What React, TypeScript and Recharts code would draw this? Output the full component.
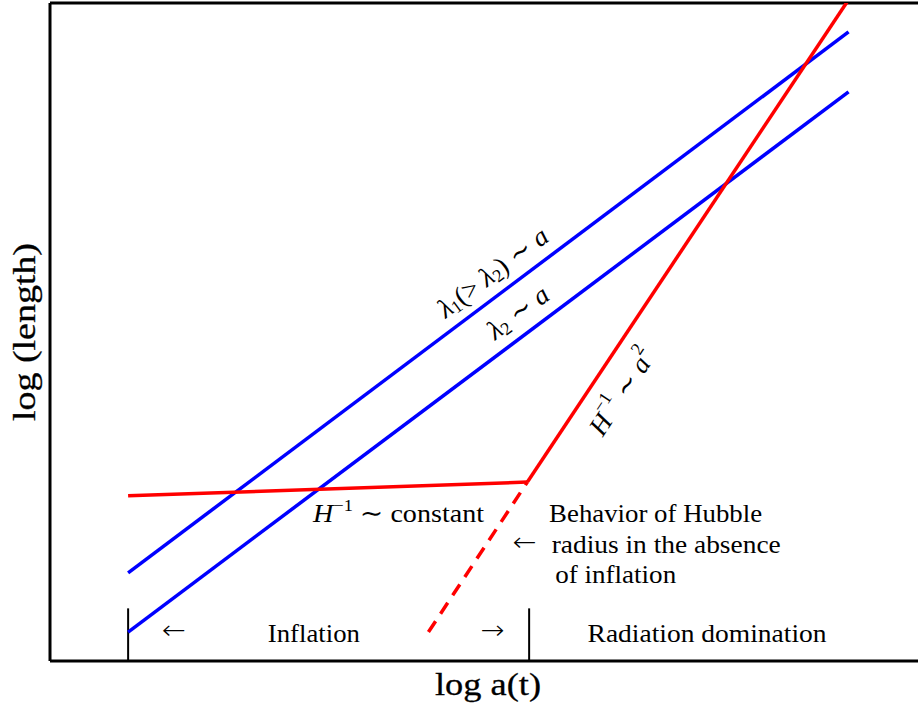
import React from 'react';
import { ComposedChart, Line, XAxis, YAxis, ReferenceLine, ReferenceDot, Label } from 'recharts';

// log a(t) vs log(length), arbitrary units
const lambda1 = [{ x: 0.9, y: 1.34 }, { x: 9.2, y: 9.56 }];
const lambda2 = [{ x: 0.9, y: 0.44 }, { x: 9.2, y: 8.65 }];
const hubbleInflation = [{ x: 0.9, y: 2.51 }, { x: 5.5, y: 2.72 }];
const hubbleRadiation = [{ x: 5.5, y: 2.72 }, { x: 9.2, y: 10.05 }];
const hubbleNoInflation = [{ x: 4.36, y: 0.44 }, { x: 5.5, y: 2.72 }];
const epochBoundaries = [0.9, 5.52];
const boundaryHeight = 0.8;
const frameTop = 10;

const FONT = '"Liberation Serif", "DejaVu Serif", serif';
const ARROW_FONT = '"DejaVu Sans", sans-serif';

type Ann = { x: number; y: number; kind: string };
const annotations: Ann[] = [
  { x: 1.43, y: 0.33, kind: 'arrowLeft' },
  { x: 3.04, y: 0.289, kind: 'inflation' },
  { x: 5.1, y: 0.33, kind: 'arrowRight' },
  { x: 5.47, y: 1.67, kind: 'arrowLeft2' },
  { x: 7.57, y: 0.289, kind: 'radiation' },
  { x: 3.03, y: 2.11, kind: 'hconst' },
  { x: 5.75, y: 2.11, kind: 'behav1' },
  { x: 5.78, y: 1.64, kind: 'behav2' },
  { x: 5.82, y: 1.185, kind: 'behav3' },
  { x: 5.1, y: 5.91, kind: 'lambda1' },
  { x: 5.39, y: 5.3, kind: 'lambda2' },
  { x: 6.59, y: 4.09, kind: 'ha2' },
];

const base = { fontFamily: FONT, fill: '#000' } as const;

function arrow(ch: string, cx: number, cy: number) {
  return (
    <text x={cx} y={cy} textAnchor="middle" fontSize={26} fontWeight={200} fontFamily={ARROW_FONT}
      textLength={24} lengthAdjust="spacingAndGlyphs" fill="#000">{ch}</text>
  );
}

function renderAnn(kind: string, cx: number, cy: number) {
  switch (kind) {
    case 'arrowLeft':
      return arrow('←', cx, cy);
    case 'arrowRight':
      return arrow('→', cx, cy);
    case 'arrowLeft2':
      return arrow('←', cx, cy);
    case 'inflation':
      return (
        <text x={cx} y={cy} textAnchor="middle" fontSize={25} textLength={92} lengthAdjust="spacingAndGlyphs" {...base}>Inflation</text>
      );
    case 'radiation':
      return (
        <text x={cx} y={cy} textAnchor="middle" fontSize={25} textLength={239} lengthAdjust="spacingAndGlyphs" {...base}>Radiation domination</text>
      );
    case 'behav1':
      return (
        <text x={cx} y={cy} fontSize={25} textLength={213} lengthAdjust="spacingAndGlyphs" {...base}>Behavior of Hubble</text>
      );
    case 'behav2':
      return (
        <text x={cx} y={cy} fontSize={25} textLength={229} lengthAdjust="spacingAndGlyphs" {...base}>radius in the absence</text>
      );
    case 'behav3':
      return (
        <text x={cx} y={cy} fontSize={25} textLength={121} lengthAdjust="spacingAndGlyphs" {...base}>of inflation</text>
      );
    case 'hconst':
      return (
        <text x={cx} y={cy} fontSize={26} textLength={171} lengthAdjust="spacingAndGlyphs" {...base}>
          <tspan fontStyle="italic">H</tspan>
          <tspan fontSize={17} dy={-11}>−1</tspan>
          <tspan dy={11}> ∼ constant</tspan>
        </text>
      );
    case 'lambda1':
      return (
        <text x={cx} y={cy} textAnchor="middle" dominantBaseline="central" fontSize={27}
          transform={`rotate(-36.9 ${cx} ${cy})`} {...base}>
          <tspan fontStyle="italic">λ</tspan>
          <tspan fontSize={18} dy={6}>1</tspan>
          <tspan dy={-6}>(&gt; </tspan>
          <tspan fontStyle="italic">λ</tspan>
          <tspan fontSize={18} dy={6}>2</tspan>
          <tspan dy={-6}>) ∼ </tspan>
          <tspan fontStyle="italic">a</tspan>
        </text>
      );
    case 'lambda2':
      return (
        <text x={cx} y={cy} textAnchor="middle" dominantBaseline="central" fontSize={27}
          transform={`rotate(-36.9 ${cx} ${cy})`} {...base}>
          <tspan fontStyle="italic">λ</tspan>
          <tspan fontSize={18} dy={6}>2</tspan>
          <tspan dy={-6}> ∼ </tspan>
          <tspan fontStyle="italic">a</tspan>
        </text>
      );
    case 'ha2':
      return (
        <text x={cx} y={cy} textAnchor="middle" dominantBaseline="central" fontSize={27}
          transform={`rotate(-56.6 ${cx} ${cy})`} {...base}>
          <tspan fontStyle="italic">H</tspan>
          <tspan fontSize={18} dy={-11}>−1</tspan>
          <tspan dy={11}> ∼ </tspan>
          <tspan fontStyle="italic">a</tspan>
          <tspan fontSize={18} dy={-11}>2</tspan>
        </text>
      );
    default:
      return <g />;
  }
}

const XLabel = (props: any) => {
  const vb = props.viewBox || {};
  const cx = vb.x + vb.width / 2 + 4;
  const y = vb.y + 34;
  return (
    <text x={cx} y={y} textAnchor="middle" fontSize={31} textLength={106} lengthAdjust="spacingAndGlyphs"
      stroke="#000" strokeWidth={0.3} {...base}>log a(t)</text>
  );
};

const YLabel = () => {
  const cx = 24;
  const cy = 332;
  return (
    <text x={cx} y={cy} textAnchor="middle" dominantBaseline="central" fontSize={31}
      textLength={178} lengthAdjust="spacingAndGlyphs" stroke="#000" strokeWidth={0.3}
      transform={`rotate(-90 ${cx} ${cy})`} {...base}>log (length)</text>
  );
};

export default function App() {
  return (
    <div style={{ position: 'absolute', left: 0, top: 0, background: '#fff' }}>
      <ComposedChart width={918} height={707} margin={{ top: 3, right: 0, bottom: 0, left: 0 }}>
        <XAxis type="number" dataKey="x" domain={[0, 10]} allowDataOverflow height={46} tick={false} tickLine={false}
          axisLine={{ stroke: '#000', strokeWidth: 3 }}>
          <Label content={<XLabel />} />
        </XAxis>
        <YAxis type="number" dataKey="y" domain={[0, 10]} allowDataOverflow width={50} tick={false} tickLine={false}
          axisLine={{ stroke: '#000', strokeWidth: 3 }}>
          <Label content={<YLabel />} />
        </YAxis>
        <ReferenceLine y={frameTop} stroke="#000" strokeWidth={3} ifOverflow="visible" />
        {epochBoundaries.map((bx) => (
          <ReferenceLine key={bx} segment={[{ x: bx, y: 0 }, { x: bx, y: boundaryHeight }]} stroke="#000" strokeWidth={2} />
        ))}
        <Line data={lambda1} dataKey="y" stroke="#0000ff" strokeWidth={3.5} dot={false} isAnimationActive={false} />
        <Line data={lambda2} dataKey="y" stroke="#0000ff" strokeWidth={3.5} dot={false} isAnimationActive={false} />
        <Line data={hubbleInflation} dataKey="y" stroke="#ff0000" strokeWidth={3.5} dot={false} isAnimationActive={false} />
        <Line data={hubbleRadiation} dataKey="y" stroke="#ff0000" strokeWidth={3.5} dot={false} isAnimationActive={false} />
        <Line data={hubbleNoInflation} dataKey="y" stroke="#ff0000" strokeWidth={3.5} strokeDasharray="13 9" dot={false} isAnimationActive={false} />
        {annotations.map((a) => (
          <ReferenceDot key={a.kind} x={a.x} y={a.y} r={0} ifOverflow="visible"
            shape={(p: any) => renderAnn(a.kind, p.cx, p.cy)} />
        ))}
      </ComposedChart>
    </div>
  );
}
